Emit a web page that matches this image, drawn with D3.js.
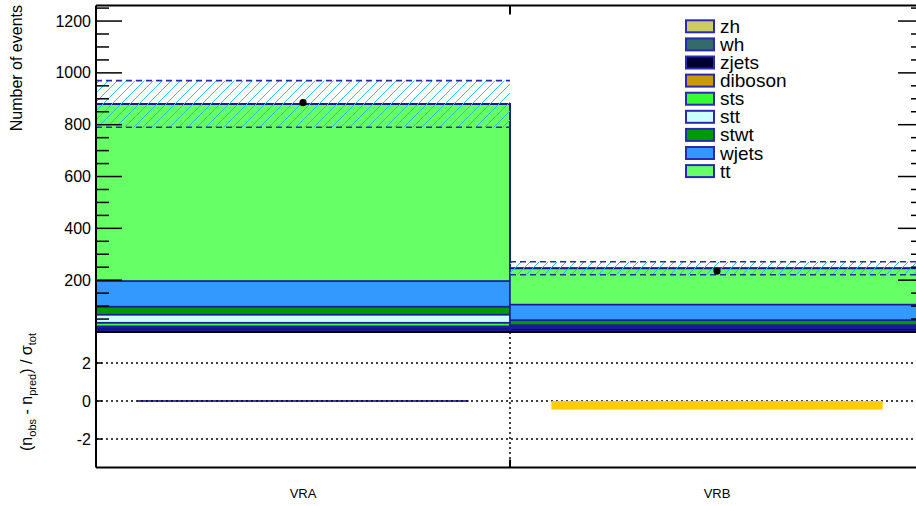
<!DOCTYPE html>
<html><head><meta charset="utf-8">
<script src="https://cdn.jsdelivr.net/npm/d3@7"></script>
<style>
html,body{margin:0;padding:0;background:#fff;}
svg{display:block;font-family:"Liberation Sans",Arial,sans-serif;}
</style></head>
<body><svg id="c" width="916" height="506"></svg>
<script>
// ---------- data ----------
const regions = ["VRA", "VRB"];
const samples = ["zh", "wh", "zjets", "diboson", "sts", "stt", "stwt", "wjets", "tt"]; // stack bottom -> top
const zh      = [3, 2];
const wh      = [5, 4];
const zjets   = [8, 9];
const diboson = [6, 4];
const sts     = [14, 3];
const stt     = [31, 5];
const stwt    = [31, 19];
const wjets   = [99, 60];
const tt      = [683, 140];
const dataObs = [885, 235];
const totalErr = [90, 25];
const pull    = [0.0, -0.45];
const yTicks  = [200, 400, 600, 800, 1000, 1200];
const rTicks  = [-2, 0, 2];
const colors  = {zh:"#cccc66", wh:"#336b6b", zjets:"#000033", diboson:"#cc9900", sts:"#33ff33",
                 stt:"#ccffff", stwt:"#009900", wjets:"#3399ff", tt:"#66ff66"};

const series = {zh, wh, zjets, diboson, sts, stt, stwt, wjets, tt};
const rows = regions.map((r, i) => { const o = {region: r}; samples.forEach(s => o[s] = series[s][i]); return o; });

// ---------- layout ----------
const svg = d3.select("#c");
const L = 96, R = 924, T = 5.5, B = 332, RB = 467.5;
const x = d3.scaleBand().domain(regions).range([L, R]).padding(0);
const y = d3.scaleLinear().domain([0, 1260]).range([B, T]);
const ry = d3.scaleLinear().domain([-3.5, 3.6]).range([RB, B + 0.6]);
const edge = "#1a1a99";

const defs = svg.append("defs");
const pat = defs.append("pattern").attr("id", "hatch").attr("patternUnits", "userSpaceOnUse")
  .attr("width", 9).attr("height", 9);
pat.append("path").attr("d", "M0,9 L9,0 M-1,1 L1,-1 M8,10 L10,8")
  .attr("stroke", "#22c4e0").attr("stroke-width", 1);

// ---------- stack ----------
const stack = d3.stack().keys(samples)(rows);
const gS = svg.append("g");
stack.forEach(layer => {
  layer.forEach((d, i) => {
    gS.append("rect")
      .attr("x", x(regions[i])).attr("width", x.bandwidth())
      .attr("y", y(d[1])).attr("height", Math.max(0, y(d[0]) - y(d[1])))
      .attr("fill", colors[layer.key])
      .attr("stroke", edge).attr("stroke-width", 1.5);
  });
});

// total line (step)
const totals = rows.map(r => d3.sum(samples, s => r[s]));
let stepPts = [];
regions.forEach((r, i) => { stepPts.push([x(r), y(totals[i])]); stepPts.push([x(r) + x.bandwidth(), y(totals[i])]); });
svg.append("path").attr("d", d3.line()(stepPts)).attr("fill", "none").attr("stroke", edge).attr("stroke-width", 2);

// uncertainty band
regions.forEach((r, i) => {
  const top = y(totals[i] + totalErr[i]), bot = y(totals[i] - totalErr[i]);
  svg.append("rect").attr("x", x(r)).attr("width", x.bandwidth()).attr("y", top).attr("height", bot - top)
    .attr("fill", "url(#hatch)");
  [top, bot].forEach(yy => svg.append("line").attr("x1", x(r)).attr("x2", x(r) + x.bandwidth())
    .attr("y1", yy).attr("y2", yy).attr("stroke", "#2a2aa8").attr("stroke-width", 1.6)
    .attr("stroke-dasharray", "6,4"));
});

// data points
regions.forEach((r, i) => {
  svg.append("circle").attr("cx", x(r) + x.bandwidth() / 2).attr("cy", y(dataObs[i])).attr("r", 3.6).attr("fill", "#000");
});

// ---------- top frame & axes ----------
const gF = svg.append("g").attr("stroke", "#000");
gF.append("line").attr("x1", L).attr("x2", R).attr("y1", T).attr("y2", T).attr("stroke-width", 2);
gF.append("line").attr("x1", L).attr("x2", L).attr("y1", T).attr("y2", RB).attr("stroke-width", 2);
gF.append("line").attr("x1", L).attr("x2", R).attr("y1", B).attr("y2", B).attr("stroke-width", 2);
gF.append("line").attr("x1", R).attr("x2", R).attr("y1", T).attr("y2", RB).attr("stroke-width", 2);
const minor = d3.range(0, 1260, 50);
minor.forEach(v => {
  const major = v % 200 === 0;
  const len = major ? 26 : 13;
  if (v === 0) return;
  gF.append("line").attr("x1", L).attr("x2", L + len).attr("y1", y(v)).attr("y2", y(v)).attr("stroke-width", 1.5);
  gF.append("line").attr("x1", R - len).attr("x2", R).attr("y1", y(v)).attr("y2", y(v)).attr("stroke-width", 1.5);
});
gF.append("line").attr("x1", x("VRB")).attr("x2", x("VRB")).attr("y1", T).attr("y2", T + 9).attr("stroke-width", 2);

svg.append("g").selectAll("text").data(yTicks).join("text")
  .attr("x", 91).attr("y", d => y(d) + 5.5).attr("text-anchor", "end")
  .attr("font-size", 16).text(d => d);

svg.append("text").attr("transform", "translate(22,5) rotate(-90)").attr("text-anchor", "end")
  .attr("font-size", 16).text("Number of events");

// ---------- legend ----------
const legendOrder = ["zh", "wh", "zjets", "diboson", "sts", "stt", "stwt", "wjets", "tt"];
const gL = svg.append("g");
legendOrder.forEach((s, i) => {
  const cy = 26.3 + i * 18.1;
  gL.append("rect").attr("x", 686).attr("y", cy - 6).attr("width", 28).attr("height", 12)
    .attr("fill", colors[s]).attr("stroke", "#2a2ab0").attr("stroke-width", 2);
  gL.append("text").attr("x", 720).attr("y", cy + 6.5).attr("font-size", 19).text(s);
});

// ---------- ratio panel ----------
const gR = svg.append("g");
rTicks.forEach(v => {
  gR.append("line").attr("x1", L).attr("x2", R).attr("y1", ry(v)).attr("y2", ry(v))
    .attr("stroke", "#000").attr("stroke-width", 1.5).attr("stroke-dasharray", "2,3");
});
gR.append("line").attr("x1", x("VRB")).attr("x2", x("VRB")).attr("y1", B).attr("y2", RB)
  .attr("stroke", "#000").attr("stroke-width", 1.5).attr("stroke-dasharray", "2,3");
regions.forEach((r, i) => {
  const inset = x.bandwidth() * 0.1;
  const y0 = ry(0), y1 = ry(pull[i]);
  if (Math.abs(pull[i]) < 0.01) {
    gR.append("line").attr("x1", x(r) + inset).attr("x2", x(r) + x.bandwidth() - inset)
      .attr("y1", y0).attr("y2", y0).attr("stroke", "#000066").attr("stroke-width", 1.5);
  } else {
    gR.append("rect").attr("x", x(r) + inset).attr("width", x.bandwidth() - 2 * inset)
      .attr("y", Math.min(y0, y1)).attr("height", Math.abs(y1 - y0)).attr("fill", "#ffcc00");
  }
});
gR.append("line").attr("x1", L).attr("x2", R).attr("y1", RB).attr("y2", RB).attr("stroke", "#000").attr("stroke-width", 2);
gR.append("line").attr("x1", x("VRB")).attr("x2", x("VRB")).attr("y1", RB - 8).attr("y2", RB).attr("stroke", "#000").attr("stroke-width", 2);
rTicks.forEach(v => {
  gR.append("line").attr("x1", L).attr("x2", L + 6).attr("y1", ry(v)).attr("y2", ry(v)).attr("stroke", "#000").attr("stroke-width", 1.5);
});
svg.append("g").selectAll("text").data(rTicks).join("text")
  .attr("x", 91).attr("y", d => ry(d) + 5.5).attr("text-anchor", "end")
  .attr("font-size", 16).text(d => d);

const rt = svg.append("text").attr("transform", "translate(32,392) rotate(-90)").attr("text-anchor", "middle").attr("font-size", 16);
rt.append("tspan").text("(n");
rt.append("tspan").attr("font-size", 11).attr("dy", 4).text("obs");
rt.append("tspan").attr("dy", -4).text(" - n");
rt.append("tspan").attr("font-size", 11).attr("dy", 4).text("pred");
rt.append("tspan").attr("dy", -4).text(") / σ");
rt.append("tspan").attr("font-size", 11).attr("dy", 4).text("tot");

// x labels
svg.append("g").selectAll("text").data(regions).join("text")
  .attr("x", d => x(d) + x.bandwidth() / 2).attr("y", 498).attr("text-anchor", "middle")
  .attr("font-size", 13).text(d => d);
</script></body></html>
